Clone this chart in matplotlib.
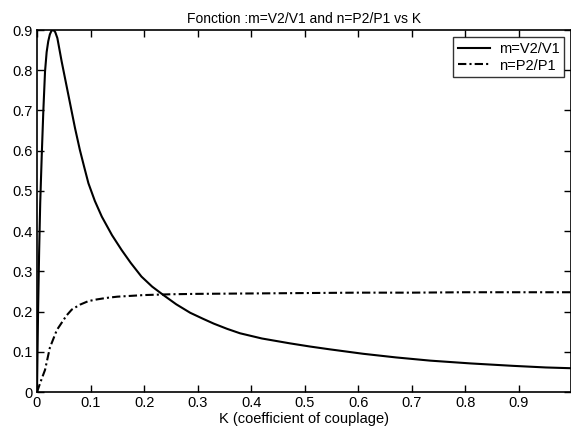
import matplotlib
matplotlib.use("Agg")
import matplotlib.pyplot as plt

plt.rcParams['font.family'] = ['Liberation Sans', 'DejaVu Sans']

title = "Fonction :m=V2/V1 and n=P2/P1 vs K"
xlabel = "K (coefficient of couplage)"
series_labels = ["m=V2/V1", "n=P2/P1"]

k_m = [0, 0.001, 0.002, 0.004, 0.006, 0.0088, 0.0118, 0.015, 0.018, 0.021,
       0.024, 0.027, 0.0305, 0.034, 0.038, 0.046, 0.0585, 0.071, 0.08, 0.088,
       0.096, 0.108, 0.121, 0.14, 0.158, 0.175, 0.195, 0.215, 0.236, 0.26,
       0.286, 0.31, 0.33, 0.355, 0.379, 0.42, 0.472, 0.51, 0.547, 0.609,
       0.67, 0.734, 0.81, 0.889, 0.95, 1.0]
m_vals = [0, 0.1, 0.2, 0.35, 0.47, 0.586, 0.698, 0.797, 0.845, 0.872,
          0.889, 0.898, 0.9, 0.895, 0.88, 0.822, 0.739, 0.656, 0.602, 0.56,
          0.519, 0.475, 0.436, 0.39, 0.353, 0.321, 0.287, 0.262, 0.241, 0.218,
          0.197, 0.182, 0.17, 0.157, 0.146, 0.133, 0.121, 0.113, 0.106, 0.095,
          0.086, 0.078, 0.071, 0.065, 0.061, 0.059]

k_n = [0, 0.008, 0.015, 0.024, 0.037, 0.055, 0.065, 0.08, 0.096, 0.111,
       0.13, 0.15, 0.175, 0.2, 0.25, 0.3, 0.4, 0.5, 0.6, 0.7, 0.8, 0.9, 1.0]
n_vals = [0, 0.03, 0.055, 0.11, 0.154, 0.19, 0.205, 0.217, 0.226, 0.23,
          0.234, 0.237, 0.239, 0.241, 0.243, 0.244, 0.245, 0.246, 0.247, 0.247,
          0.248, 0.248, 0.248]

xticks = [0, 0.1, 0.2, 0.3, 0.4, 0.5, 0.6, 0.7, 0.8, 0.9]
xticklabels = ["0", "0.1", "0.2", "0.3", "0.4", "0.5", "0.6", "0.7", "0.8", "0.9"]
yticks = [0, 0.1, 0.2, 0.3, 0.4, 0.5, 0.6, 0.7, 0.8, 0.9]
yticklabels = ["0", "0.1", "0.2", "0.3", "0.4", "0.5", "0.6", "0.7", "0.8", "0.9"]

fig = plt.figure(figsize=(5.71, 4.30), dpi=100)
ax = fig.add_axes([37/571, 38/430, 534/571, 362/430])

ax.plot(k_m, m_vals, color='black', lw=1.5, linestyle='-', label=series_labels[0])
ax.plot(k_n, n_vals, color='black', lw=1.5, linestyle=(0, (4, 1.5, 1, 1.5)), label=series_labels[1])

ax.set_xlim(0, 534/535.6)
ax.set_ylim(0, 0.9)
ax.set_xticks(xticks)
ax.set_xticklabels(xticklabels)
ax.set_yticks(yticks)
ax.set_yticklabels(yticklabels)
ax.tick_params(direction='in', length=5, width=1, top=True, right=True,
               labelsize=10.5, pad=3)
for s in ax.spines.values():
    s.set_linewidth(1.2)

ax.set_title(title, fontsize=10, pad=5)
ax.set_xlabel(xlabel, fontsize=10.5, labelpad=1)

leg = ax.legend(loc='upper right', fontsize=10.5, frameon=True, fancybox=False,
                edgecolor='black', borderaxespad=0.5, handlelength=2.2,
                borderpad=0.3, labelspacing=0.2, handletextpad=0.6)
leg.get_frame().set_linewidth(1.0)

fig.savefig("out.png", dpi=100)
